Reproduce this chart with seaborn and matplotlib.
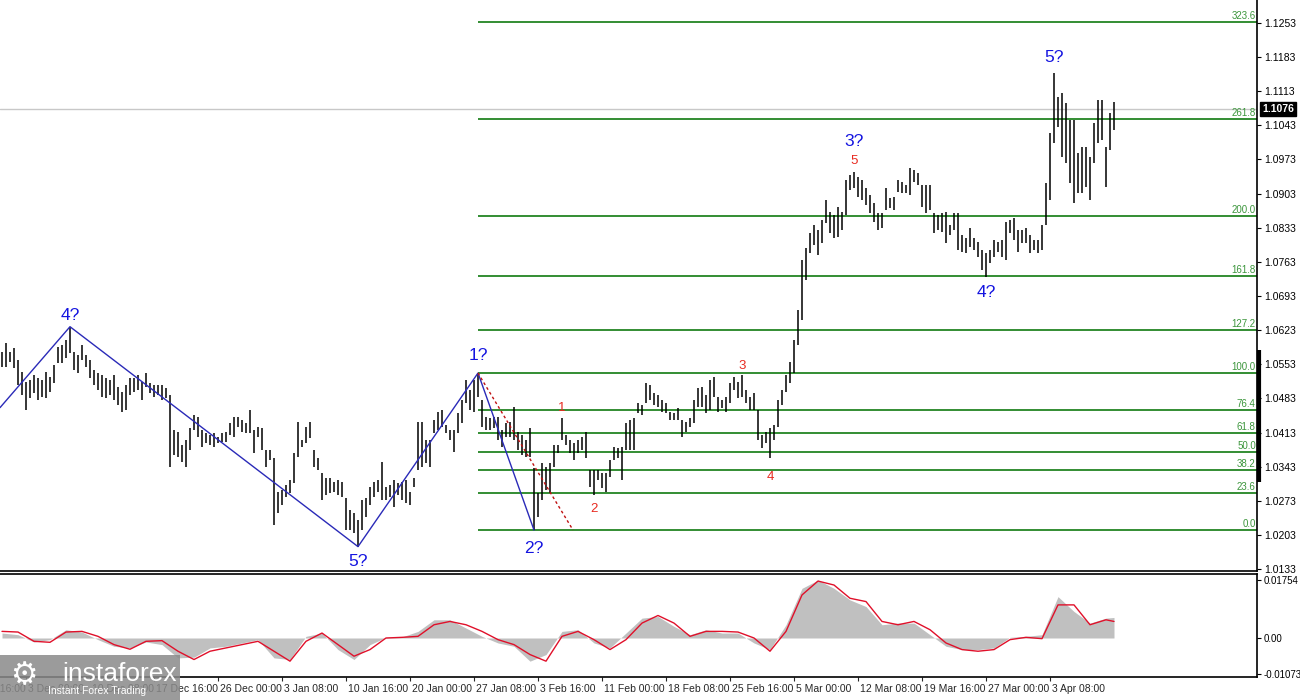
import numpy as np
import pandas as pd
import matplotlib
matplotlib.use("Agg")
import matplotlib.pyplot as plt
import matplotlib.transforms as mtransforms
from matplotlib.patches import Rectangle
import seaborn as sns

# H4 price bars (every other bar)
highs = [
    1.0578, 1.0597, 1.0578, 1.0587, 1.0562, 1.0537, 1.0517, 1.0521, 1.0531, 1.0525,
    1.0521, 1.0537, 1.0527, 1.0552, 1.0589, 1.0593, 1.0603, 1.0630, 1.0578, 1.0572,
    1.0593, 1.0572, 1.0562, 1.0542, 1.0535, 1.0531, 1.0525, 1.0521, 1.0531, 1.0507,
    1.0496, 1.0511, 1.0525, 1.0525, 1.0531, 1.0517, 1.0535, 1.0515, 1.0511, 1.0511,
    1.0511, 1.0505, 1.0490, 1.0419, 1.0414, 1.0388, 1.0398, 1.0423, 1.0449, 1.0445,
    1.0419, 1.0412, 1.0408, 1.0412, 1.0404, 1.0412, 1.0414, 1.0433, 1.0445, 1.0445,
    1.0439, 1.0433, 1.0460, 1.0419, 1.0425, 1.0423, 1.0378, 1.0378, 1.0361, 1.0291,
    1.0296, 1.0306, 1.0316, 1.0371, 1.0435, 1.0398, 1.0425, 1.0435, 1.0378, 1.0361,
    1.0330, 1.0320, 1.0320, 1.0312, 1.0316, 1.0312, 1.0279, 1.0255, 1.0248, 1.0234,
    1.0275, 1.0279, 1.0302, 1.0312, 1.0316, 1.0353, 1.0302, 1.0306, 1.0316, 1.0310,
    1.0312, 1.0316, 1.0291, 1.0320, 1.0435, 1.0435, 1.0398, 1.0398, 1.0439, 1.0455,
    1.0460, 1.0429, 1.0419, 1.0419, 1.0453, 1.0480, 1.0521, 1.0501, 1.0521, 1.0535,
    1.0480, 1.0445, 1.0443, 1.0445, 1.0445, 1.0419, 1.0433, 1.0435, 1.0466, 1.0414,
    1.0408, 1.0398, 1.0423, 1.0340, 1.0289, 1.0351, 1.0343, 1.0351, 1.0388, 1.0388,
    1.0443, 1.0408, 1.0398, 1.0392, 1.0398, 1.0404, 1.0414, 1.0337, 1.0337, 1.0337,
    1.0330, 1.0330, 1.0357, 1.0384, 1.0382, 1.0384, 1.0433, 1.0439, 1.0443, 1.0474,
    1.0470, 1.0515, 1.0511, 1.0494, 1.0490, 1.0480, 1.0474, 1.0455, 1.0453, 1.0464,
    1.0439, 1.0435, 1.0443, 1.0480, 1.0505, 1.0507, 1.0490, 1.0521, 1.0527, 1.0486,
    1.0480, 1.0486, 1.0515, 1.0527, 1.0517, 1.0531, 1.0501, 1.0486, 1.0494, 1.0460,
    1.0408, 1.0414, 1.0423, 1.0429, 1.0480, 1.0501, 1.0531, 1.0558, 1.0603, 1.0665,
    1.0767, 1.0792, 1.0822, 1.0839, 1.0829, 1.0849, 1.0890, 1.0865, 1.0859, 1.0876,
    1.0865, 1.0931, 1.0941, 1.0947, 1.0937, 1.0931, 1.0915, 1.0900, 1.0884, 1.0863,
    1.0863, 1.0915, 1.0894, 1.0896, 1.0931, 1.0927, 1.0921, 1.0956, 1.0952, 1.0945,
    1.0921, 1.0921, 1.0921, 1.0863, 1.0859, 1.0863, 1.0865, 1.0839, 1.0863, 1.0863,
    1.0818, 1.0812, 1.0833, 1.0812, 1.0804, 1.0788, 1.0781, 1.0788, 1.0808, 1.0804,
    1.0808, 1.0845, 1.0849, 1.0853, 1.0829, 1.0829, 1.0833, 1.0818, 1.0808, 1.0808,
    1.0839, 1.0925, 1.1027, 1.1150, 1.1101, 1.1109, 1.1089, 1.1054, 1.1054, 1.0986,
    1.0999, 1.0999, 1.0978, 1.1048, 1.1095, 1.1095, 1.0999, 1.1068, 1.1091,
]
lows = [
    1.0548, 1.0548, 1.0558, 1.0546, 1.0511, 1.0490, 1.0460, 1.0484, 1.0494, 1.0480,
    1.0486, 1.0484, 1.0496, 1.0515, 1.0556, 1.0556, 1.0566, 1.0576, 1.0542, 1.0535,
    1.0562, 1.0548, 1.0525, 1.0511, 1.0501, 1.0486, 1.0484, 1.0490, 1.0480, 1.0470,
    1.0455, 1.0460, 1.0490, 1.0496, 1.0501, 1.0480, 1.0507, 1.0494, 1.0486, 1.0490,
    1.0480, 1.0484, 1.0343, 1.0367, 1.0363, 1.0353, 1.0343, 1.0378, 1.0419, 1.0404,
    1.0384, 1.0392, 1.0388, 1.0384, 1.0392, 1.0394, 1.0394, 1.0408, 1.0404, 1.0425,
    1.0414, 1.0412, 1.0412, 1.0371, 1.0404, 1.0378, 1.0343, 1.0357, 1.0224, 1.0248,
    1.0265, 1.0281, 1.0289, 1.0310, 1.0363, 1.0384, 1.0392, 1.0402, 1.0343, 1.0337,
    1.0275, 1.0285, 1.0289, 1.0291, 1.0285, 1.0281, 1.0214, 1.0214, 1.0207, 1.0179,
    1.0214, 1.0240, 1.0265, 1.0281, 1.0291, 1.0275, 1.0275, 1.0281, 1.0261, 1.0285,
    1.0275, 1.0269, 1.0265, 1.0302, 1.0337, 1.0343, 1.0351, 1.0343, 1.0412, 1.0419,
    1.0425, 1.0412, 1.0398, 1.0373, 1.0412, 1.0433, 1.0474, 1.0460, 1.0455, 1.0486,
    1.0425, 1.0419, 1.0419, 1.0423, 1.0398, 1.0384, 1.0404, 1.0404, 1.0398, 1.0378,
    1.0367, 1.0363, 1.0363, 1.0213, 1.0240, 1.0275, 1.0296, 1.0289, 1.0343, 1.0371,
    1.0398, 1.0388, 1.0371, 1.0357, 1.0371, 1.0378, 1.0361, 1.0302, 1.0285, 1.0316,
    1.0300, 1.0291, 1.0322, 1.0357, 1.0361, 1.0316, 1.0378, 1.0378, 1.0378, 1.0453,
    1.0449, 1.0474, 1.0480, 1.0470, 1.0466, 1.0455, 1.0453, 1.0439, 1.0439, 1.0439,
    1.0404, 1.0414, 1.0425, 1.0433, 1.0466, 1.0466, 1.0453, 1.0460, 1.0486, 1.0455,
    1.0464, 1.0455, 1.0474, 1.0501, 1.0484, 1.0486, 1.0474, 1.0460, 1.0460, 1.0398,
    1.0382, 1.0392, 1.0361, 1.0398, 1.0425, 1.0470, 1.0496, 1.0515, 1.0535, 1.0593,
    1.0644, 1.0726, 1.0781, 1.0798, 1.0777, 1.0802, 1.0843, 1.0822, 1.0812, 1.0814,
    1.0829, 1.0859, 1.0910, 1.0915, 1.0896, 1.0890, 1.0880, 1.0863, 1.0845, 1.0829,
    1.0833, 1.0870, 1.0874, 1.0870, 1.0906, 1.0904, 1.0904, 1.0900, 1.0927, 1.0921,
    1.0876, 1.0863, 1.0870, 1.0822, 1.0829, 1.0824, 1.0802, 1.0818, 1.0829, 1.0788,
    1.0783, 1.0781, 1.0794, 1.0788, 1.0773, 1.0747, 1.0732, 1.0761, 1.0773, 1.0783,
    1.0773, 1.0767, 1.0822, 1.0808, 1.0783, 1.0802, 1.0802, 1.0781, 1.0788, 1.0781,
    1.0788, 1.0839, 1.0890, 1.1007, 1.1040, 1.0978, 1.0966, 1.0925, 1.0884, 1.0904,
    1.0904, 1.0917, 1.0890, 1.0966, 1.1007, 1.1013, 1.0917, 1.0993, 1.1034,
]
last_close = 1.1076

price_ticks = [1.0133, 1.0203, 1.0273, 1.0343, 1.0413, 1.0483, 1.0553, 1.0623, 1.0693,
               1.0763, 1.0833, 1.0903, 1.0973, 1.1043, 1.1113, 1.1183, 1.1253]

# fibonacci grid, drawn from the 1? high to the 2? low
fib_levels = [0.0, 23.6, 38.2, 50.0, 61.8, 76.4, 100.0, 127.2, 161.8, 200.0, 261.8, 323.6]
fib_idx = [119, 142.75]
fib_price = [1.0535, 1.0213]

# wave marks
wave_labels = ["4?", "5?", "1?", "2?", "3?", "4?", "5?"]
wave_idx = [17, 89, 119, 133, 213, 246, 263]
wave_price = [1.0630, 1.0179, 1.0535, 1.0213, 1.0947, 1.0732, 1.1150]
wave_dy = [11, -15, 18, -18, 31, -16, 16]

zigzag_idx = [-0.5, 17, 89, 119, 133]
zigzag_price = [1.0464, 1.0630, 1.0179, 1.0535, 1.0213]

sub_labels = ["1", "2", "3", "4", "5"]
sub_idx = [140, 148, 185, 192, 213]
sub_price = [1.0443, 1.0285, 1.0531, 1.0361, 1.0947]
sub_dy = [10, -14, 9, -19, 11]

# MACD, one reading every fourth bar
macd_main = [
    0.0015, 0.0010, -0.0012, -0.0005, 0.0025, 0.0018, -0.0005, -0.0025, -0.0030, -0.0012,
    -0.0020, -0.0060, -0.0058, -0.0030, -0.0025, -0.0015, -0.0005, -0.0060, -0.0065, 0.0005,
    0.0015, -0.0035, -0.0065, -0.0020, 0.0002, 0.0003, 0.0020, 0.0055, 0.0055, 0.0030,
    0.0005, -0.0015, -0.0025, -0.0070, -0.0050, 0.0020, 0.0025, -0.0015, -0.0030, 0.0015,
    0.0060, 0.0065, 0.0035, 0.0010, 0.0025, 0.0015, 0.0015, -0.0015, -0.0035, 0.0040,
    0.0150, 0.0175, 0.0150, 0.0115, 0.0095, 0.0040, 0.0045, 0.0045, 0.0010, -0.0025,
    -0.0035, -0.0035, -0.0030, 0.0002, 0.0005, 0.0010, 0.0125, 0.0080, 0.0045, 0.0060,
    0.0062,
]
macd_signal = [
    0.0020, 0.0018, -0.0010, -0.0013, 0.0018, 0.0020, 0.0005, -0.0020, -0.0034, -0.0010,
    -0.0008, -0.0040, -0.0065, -0.0040, -0.0030, -0.0020, -0.0010, -0.0040, -0.0070, -0.0010,
    0.0015, -0.0020, -0.0055, -0.0035, 0.0000, 0.0002, 0.0005, 0.0040, 0.0050, 0.0040,
    0.0020, -0.0005, -0.0020, -0.0050, -0.0070, 0.0005, 0.0020, -0.0005, -0.0035, -0.0005,
    0.0045, 0.0068, 0.0045, 0.0005, 0.0020, 0.0020, 0.0018, 0.0000, -0.0040, 0.0020,
    0.0130, 0.0172, 0.0160, 0.0120, 0.0110, 0.0050, 0.0040, 0.0050, 0.0025, -0.0015,
    -0.0035, -0.0040, -0.0035, -0.0005, 0.0002, -0.0002, 0.0100, 0.0100, 0.0040, 0.0055,
    0.0050,
]
macd_ticks = [-0.01073, 0.0, 0.01754]
macd_ticklabels = ["-0.01073", "0.00", "0.01754"]

time_labels = ["25 Nov 16:00", "3 Dec 00:00", "10 Dec 08:00", "17 Dec 16:00", "26 Dec 00:00",
               "3 Jan 08:00", "10 Jan 16:00", "20 Jan 00:00", "27 Jan 08:00", "3 Feb 16:00",
               "11 Feb 00:00", "18 Feb 08:00", "25 Feb 16:00", "5 Mar 00:00", "12 Mar 08:00",
               "19 Mar 16:00", "27 Mar 00:00", "3 Apr 08:00"]
time_pos = [-10, 6, 22, 38, 54, 70, 86, 102, 118, 134, 150, 166, 182, 198, 214, 230, 246, 262]

sns.set_style("white")
plt.rcParams["font.family"] = ["Liberation Sans", "DejaVu Sans"]

W, H = 1300, 700
fig = plt.figure(figsize=(13, 7), dpi=100)
ax = fig.add_axes([0, 1 - 571 / H, 1257 / W, 571 / H])
axm = fig.add_axes([0, 1 - 677 / H, 1257 / W, 103 / H])
XMAX = 313.75

bars = pd.DataFrame({"i": np.arange(len(highs)), "high": highs, "low": lows})

# ---- price panel
ax.axhline(last_close, color="#c8c8c8", lw=1, zorder=0)
fib_rng = fib_price[0] - fib_price[1]
for lvl in fib_levels:
    p = fib_price[1] + fib_rng * lvl / 100
    ax.hlines(p, fib_idx[0], XMAX, color="#107a10", lw=1.2, zorder=1)
    ax.text(XMAX - 0.3, p + 0.0002, f"{lvl:.1f}", ha="right", va="bottom",
            color="#3c963c", fontsize=7)

ax.vlines(bars["i"], bars["low"], bars["high"], color="black", linewidth=1.1, zorder=2)

sns.lineplot(x=zigzag_idx, y=zigzag_price, ax=ax, color="#2a2ab8", lw=1, zorder=3)
sns.lineplot(x=fib_idx, y=fib_price, ax=ax, color="#c01010", lw=1,
             linestyle=(0, (2, 2)), zorder=3)

for lab, i, p, dy in zip(wave_labels, wave_idx, wave_price, wave_dy):
    ax.annotate(lab, (i, p), xytext=(0, dy), textcoords="offset pixels",
                ha="center", va="center", color="#1414e0", fontsize=12.5)
for lab, i, p, dy in zip(sub_labels, sub_idx, sub_price, sub_dy):
    ax.annotate(lab, (i, p), xytext=(0, dy), textcoords="offset pixels",
                ha="center", va="center", color="#e82a20", fontsize=9.5)

ax.set_xlim(-0.5, XMAX)
ax.set_ylim(1.0129, 1.1300)
ax.set_xticks([])
ax.yaxis.tick_right()
ax.set_yticks(price_ticks)
ax.set_yticklabels([f"{t:.4f}" for t in price_ticks])
ax.tick_params(axis="y", direction="out", length=3, width=0.8, labelsize=7.5, pad=2,
               colors="black", right=True)
for side in ["top", "left"]:
    ax.spines[side].set_visible(False)
for side in ["right", "bottom"]:
    ax.spines[side].set_color("black")
    ax.spines[side].set_linewidth(1.2)

# current price box and the thick marker on the price scale
ax.annotate(f"{last_close:.4f}", xy=(1, last_close), xycoords=("axes fraction", "data"),
            xytext=(5, 0), textcoords="offset pixels", ha="left", va="center",
            color="white", fontsize=7.5, fontweight="bold",
            bbox=dict(boxstyle="square,pad=0.2", fc="black", ec="black"))
ax.plot([XMAX + 0.45, XMAX + 0.45], [1.0583, 1.0312], color="black", lw=3,
        solid_capstyle="butt", clip_on=False)

# ---- MACD panel
macd_idx = list(range(0, 277, 4)) + [278]
axm.fill_between(macd_idx, 0, macd_main, color="#c0c0c0", lw=0)
sns.lineplot(x=macd_idx, y=macd_signal, ax=axm, color="#e0102a", lw=1)
axm.set_xlim(-0.5, XMAX)
axm.set_ylim(-0.01178, 0.01933)
axm.yaxis.tick_right()
axm.set_yticks(macd_ticks)
axm.set_yticklabels(macd_ticklabels)
axm.tick_params(axis="y", direction="out", length=3, width=0.8, labelsize=7, pad=2,
                colors="black", right=True)
axm.set_xticks(time_pos[1:])
axm.set_xticklabels([])
axm.tick_params(axis="x", direction="out", length=3, width=0.8, bottom=True)
axm.spines["left"].set_visible(False)
for side in ["top", "right", "bottom"]:
    axm.spines[side].set_color("black")
    axm.spines[side].set_linewidth(1.2)
trans = mtransforms.blended_transform_factory(axm.transData, axm.transAxes)
for lab, pos in zip(time_labels, time_pos):
    axm.text(pos + 0.4, -0.12, lab, transform=trans, ha="left", va="center",
             fontsize=7.5, clip_on=False)

# ---- watermark
fig.patches.append(Rectangle((0, 0), 180 / W, 45 / H, transform=fig.transFigure,
                             fc="#8a8a8a", ec="none", alpha=0.85, zorder=10))
fig.text(24 / W, 1 - 676 / H, "\u2699", color="white", fontsize=22, ha="center",
         va="center", zorder=11)
fig.text(62 / W, 1 - 674 / H, "instaforex", color="white", fontsize=19, ha="left",
         va="center", zorder=11)
fig.text(48 / W, 1 - 691 / H, "Instant Forex Trading", color="white", fontsize=7.5,
         ha="left", va="center", zorder=11)

fig.savefig("out.png", dpi=100)
